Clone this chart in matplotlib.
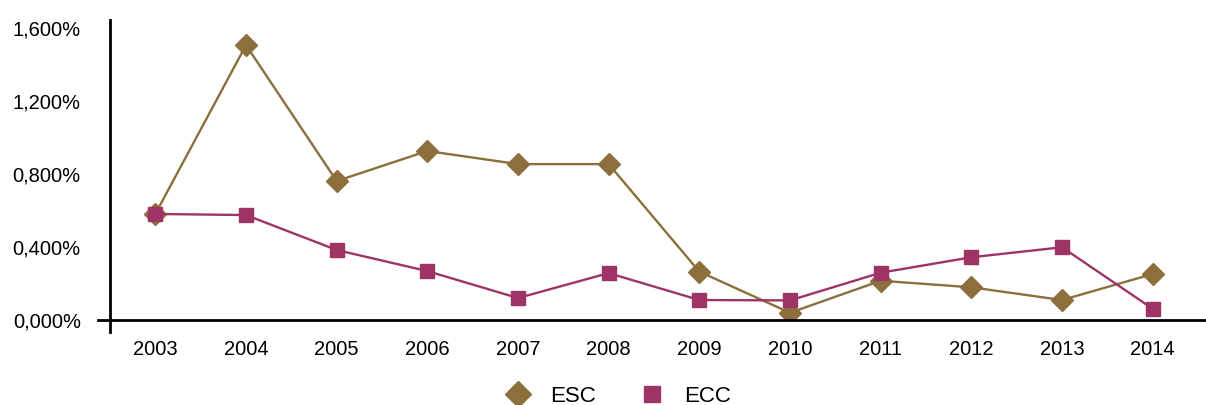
import numpy as np
import matplotlib.pyplot as plt
from matplotlib.lines import Line2D
from matplotlib.ticker import FuncFormatter, FixedLocator

plt.rcParams['font.family'] = ['Liberation Sans', 'DejaVu Sans']

# yearly rates (%)
years = ['2003', '2004', '2005', '2006', '2007', '2008',
         '2009', '2010', '2011', '2012', '2013', '2014']
esc = [0.580, 1.508, 0.761, 0.926, 0.854, 0.854,
       0.263, 0.037, 0.213, 0.177, 0.107, 0.250]
ecc = [0.580, 0.574, 0.382, 0.266, 0.118, 0.255,
       0.107, 0.105, 0.257, 0.342, 0.397, 0.059]
yticks = [0.0, 0.4, 0.8, 1.2, 1.6]

esc_color = '#8C6F3C'
ecc_color = '#9E3366'

fig = plt.figure(figsize=(12.06, 4.05), dpi=100)
ax_w = 1088
ax_h = 299.5
ax = fig.add_axes([110 / 1206, 1 - 319.5 / 405, ax_w / 1206, ax_h / 405])

x = np.arange(len(years))
ax.plot(x, esc, color=esc_color, lw=1.7, marker='D', ms=11,
        zorder=3)
ax.plot(x, ecc, color=ecc_color, lw=1.7, marker='s', ms=10.5,
        zorder=3)

ax.set_xlim(-0.5, len(years) - 0.5)
ax.set_ylim(0, 1.646)
ax.set_xticks(x)
ax.set_xticklabels(years)
ax.yaxis.set_major_locator(FixedLocator(yticks))
ax.yaxis.set_major_formatter(
    FuncFormatter(lambda v, p: f"{v:.3f}".replace('.', ',') + '%'))
ax.tick_params(axis='both', length=0, labelsize=14.5)
ax.tick_params(axis='x', pad=15)
ax.tick_params(axis='y', pad=21)

for s in ax.spines.values():
    s.set_visible(False)

# axis lines, both running a little past the origin
ax.plot([0, 0], [-12 / ax_h, 1], transform=ax.transAxes, color='black',
        lw=2, clip_on=False, zorder=4)
ax.plot([-12 / ax_w, 1096 / ax_w], [0, 0], transform=ax.transAxes,
        color='black', lw=2, clip_on=False, zorder=4)

handles = [
    Line2D([], [], ls='none', marker='D', ms=13, color=esc_color, label='ESC'),
    Line2D([], [], ls='none', marker='s', ms=11.5, color=ecc_color, label='ECC'),
]
fig.legend(handles=handles, loc='center',
           bbox_to_anchor=(619 / 1206, 1 - 396 / 405),
           ncol=2, frameon=False, fontsize=16, handlelength=1.0,
           columnspacing=2.0, handletextpad=0.95)

fig.savefig('out.png', dpi=100)
